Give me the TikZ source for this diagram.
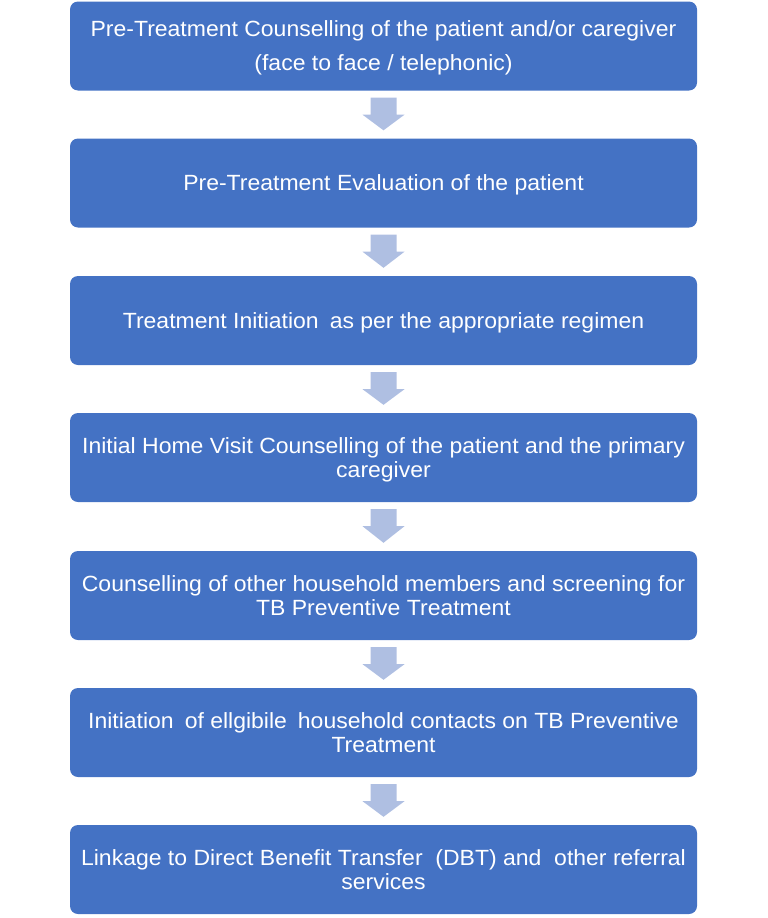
\documentclass[tikz,border=0pt]{standalone}
\usepackage{fontspec}
\setmainfont[FakeStretch=1.045]{Liberation Sans}
\usetikzlibrary{calc}
\definecolor{boxblue}{HTML}{4472C4}
\definecolor{arrowblue}{HTML}{AFBFE2}
\newcommand{\wsp}{\hspace{0.5em}}
\begin{document}
\begin{tikzpicture}[x=1pt,y=-1pt,
  stepbox/.style={draw=none,fill=boxblue,rounded corners=8pt,minimum width=627pt,minimum height=89pt,
    text=white,align=center,font=\fontsize{22}{24}\selectfont,inner sep=0pt,text depth=0pt},
  blockarrow/.style={fill=arrowblue,draw=none}]
\useasboundingbox (0,0) rectangle (768,918);
\node[stepbox] (b1) at (383.5,46) {Pre-Treatment Counselling of the patient and/or caregiver\\[10pt](face to face / telephonic)};
\node[stepbox] (b2) at (383.5,183) {Pre-Treatment Evaluation of the patient};
\node[stepbox] (b3) at (383.5,320.5) {Treatment Initiation\wsp as per the appropriate regimen};
\node[stepbox] (b4) at (383.5,457.5) {Initial Home Visit Counselling of the patient and the primary\\caregiver};
\node[stepbox] (b5) at (383.5,595.5) {Counselling of other household members and screening for\\TB Preventive Treatment};
\node[stepbox] (b6) at (383.5,732.5) {Initiation\wsp of ellgibile\wsp household contacts on TB Preventive\\Treatment};
\node[stepbox] (b7) at (383.5,869.5) {Linkage to Direct Benefit Transfer\ \ (DBT) and\ \ other referral\\services};
\foreach \a/\b in {b1/b2,b2/b3,b3/b4,b4/b5,b5/b6,b6/b7}{
  \fill[blockarrow] ($(\a.south)+(-13,7)$) -- ($(\a.south)+(13,7)$) -- ($(\a.south)+(13,24)$)
    -- ($(\a.south)+(21,24)$) -- ($(\b.north)+(0,-8)$) -- ($(\a.south)+(-21,24)$)
    -- ($(\a.south)+(-13,24)$) -- cycle;
}
\end{tikzpicture}
\end{document}
